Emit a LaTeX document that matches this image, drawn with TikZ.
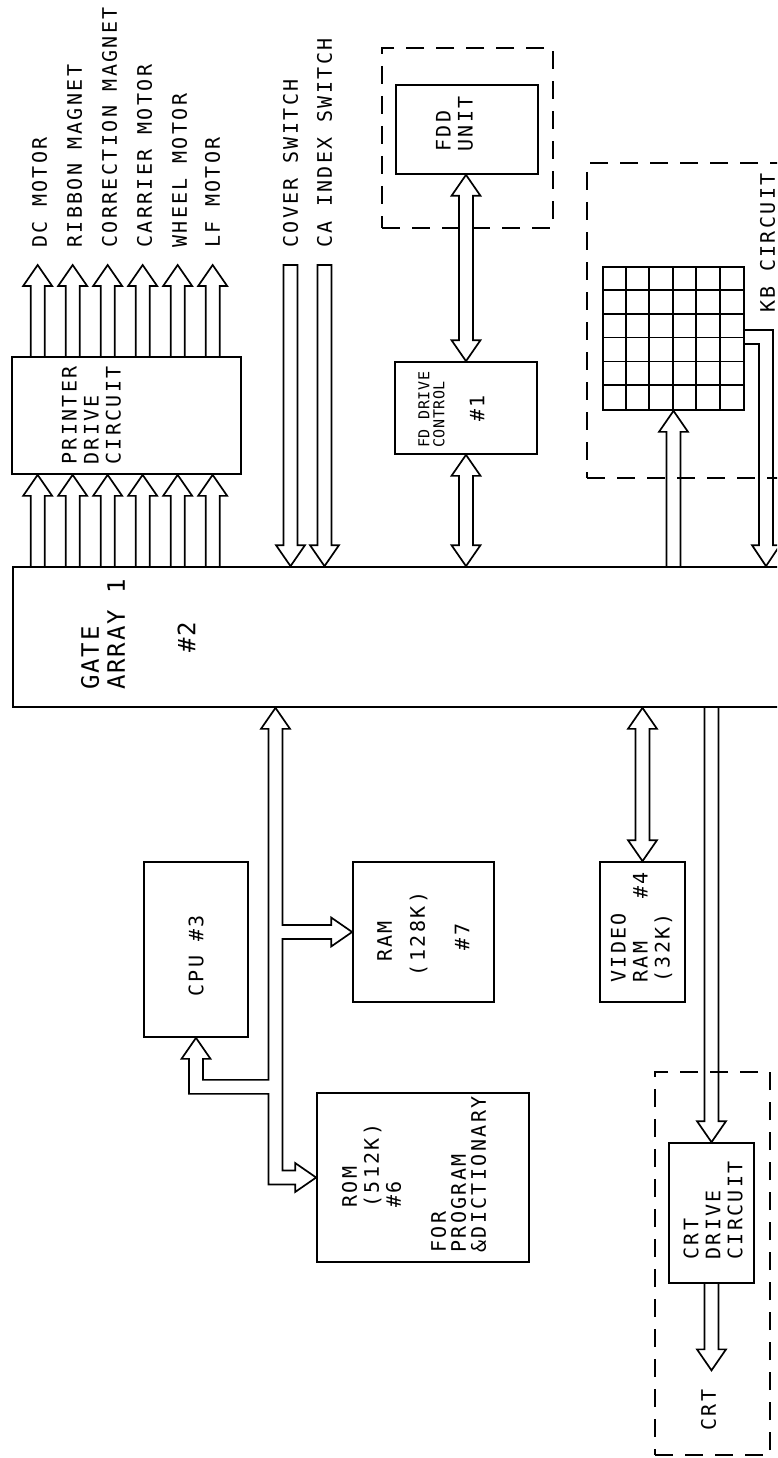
\documentclass[tikz,border=0pt]{standalone}
\usepackage{fontspec}
\usetikzlibrary{calc}
\newfontfamily\plotM{DejaVu Sans Mono}[LetterSpace=12]
\newfontfamily\plotG{DejaVu Sans Mono}[LetterSpace=8]
\newfontfamily\plotS{DejaVu Sans Mono}[LetterSpace=4]
\newcommand\lblM{\plotM\fontsize{20}{22}\selectfont}
\newcommand\lblR{\plotM\fontsize{20}{20}\selectfont}
\newcommand\lblG{\plotG\fontsize{24}{26}\selectfont}
\newcommand\lblS{\plotS\fontsize{15}{15}\selectfont}
\newcommand\arrS{7pt}
\newcommand\arrH{14.5pt}
\newcommand\arrL{21pt}
% #1 x reference, #2 tail, #3 tip, #4 sign (+ : tip below tail), #5 path end
\newcommand\blockarr[5]{%
  \draw[barrow] let \p3=(#1), \p1=(#2), \p2=(#3) in
  (\x3-\arrS,\y1) -- (\x3-\arrS,\y2#4\arrL) -- (\x3-\arrH,\y2#4\arrL) -- (\x3,\y2)
  -- (\x3+\arrH,\y2#4\arrL) -- (\x3+\arrS,\y2#4\arrL) -- (\x3+\arrS,\y1) #5;}
\newcommand\arrDown[3]{\blockarr{#1}{#2}{#3}{+}{}}
\newcommand\arrUp[3]{\blockarr{#1}{#2}{#3}{-}{}}
\newcommand\arrDownC[3]{\blockarr{#1}{#2}{#3}{+}{-- cycle}}
% double headed: #1 x reference, #2 upper end, #3 lower end
\newcommand\arrBoth[3]{%
  \draw[barrow] let \p3=(#1), \p1=(#2), \p2=(#3) in
  (\x3-\arrS,\y1-\arrL) -- (\x3-\arrH,\y1-\arrL) -- (\x3,\y1) -- (\x3+\arrH,\y1-\arrL)
  -- (\x3+\arrS,\y1-\arrL) -- (\x3+\arrS,\y2+\arrL) -- (\x3+\arrH,\y2+\arrL) -- (\x3,\y2)
  -- (\x3-\arrH,\y2+\arrL) -- (\x3-\arrS,\y2+\arrL) -- cycle;}
\tikzset{
  box/.style={draw, line width=1.7pt, inner sep=0pt},
  dbox/.style={draw, line width=1.7pt, dash pattern=on 18pt off 12pt, inner sep=0pt},
  barrow/.style={draw, line width=1.7pt, line join=miter, miter limit=8},
  lbl/.style={rotate=90, inner sep=0pt, align=left, font=\lblM},
  gridl/.style={line width=1.7pt},
}
\begin{document}
\begin{tikzpicture}[x=1pt, y=-1pt]
\useasboundingbox (0,0) rectangle (777,1458);
\clip (0,0) rectangle (777,1458);

% ---------- boxes ----------
\node[box, minimum width=887pt, minimum height=140pt] (gate) at (456.5,637) {};
\node[box, minimum width=229pt, minimum height=117pt] (pdc) at (126.5,415.5) {};
\node[box, minimum width=142pt, minimum height=92pt] (fdc) at (466,408) {};
\node[box, minimum width=142pt, minimum height=89pt] (fdd) at (467,129.5) {};
\node[box, minimum width=141pt, minimum height=143pt] (kb) at (673.5,338.5) {};
\node[box, minimum width=104pt, minimum height=175pt] (cpu) at (196,949.5) {};
\node[box, minimum width=141pt, minimum height=140pt] (ram) at (423.5,932) {};
\node[box, minimum width=85pt, minimum height=140pt] (vram) at (642.5,932) {};
\node[box, minimum width=212pt, minimum height=169pt] (rom) at (423,1177.5) {};
\node[box, minimum width=85pt, minimum height=140pt] (crt) at (711.5,1213) {};

% dashed enclosures
\node[dbox, minimum width=171pt, minimum height=180pt] (fddbox) at (467.5,138) {};
\node[dbox, minimum width=213pt, minimum height=315pt] (kbbox) at (693.5,320.5) {};
\node[dbox, minimum width=115pt, minimum height=383pt] (crtbox) at (712.5,1263.5) {};

% keyboard grid
\foreach \k in {1,...,5} {
  \draw[gridl] ([xshift=\k*23.5pt]kb.north west) -- ([xshift=\k*23.5pt]kb.south west);
  \draw[gridl] ([yshift=-\k*23.83pt]kb.north west) -- ([yshift=-\k*23.83pt]kb.north east);
}

% ---------- texts ----------
\foreach \i/\t/\x in {1/DC MOTOR/39.5, 2/RIBBON MAGNET/74.5, 3/CORRECTION MAGNET/109.5,
                      4/CARRIER MOTOR/144.5, 5/WHEEL MOTOR/179.5, 6/LF MOTOR/212.5}
  \node[lbl, anchor=west] (l\i) at (\x,248) {\t};
\node[lbl, anchor=west] (cov) at (290.5,248) {COVER SWITCH};
\node[lbl, anchor=west] (cai) at (324.5,248) {CA INDEX SWITCH};

\node[lbl, anchor=west] (ptxt) at (91.5,465) {PRINTER\\DRIVE\\CIRCUIT};
\node[lbl, font=\lblG, anchor=west] (gtxt) at (103,690) {GATE\\ARRAY 1};
\node[lbl, font=\lblG] (g2) at (186.5,637.5) {\#2};
\node[lbl, font=\lblS, anchor=west] (fdtxt) at (431.5,448) {FD DRIVE\\CONTROL};
\node[lbl] (fd1) at (477,408.5) {\#1};
\node[lbl, anchor=west] (fddtxt) at (454.5,152) {FDD\\UNIT};
\node[lbl, anchor=west] (kbtxt) at (767.5,313) {KB CIRCUIT};
\node[lbl, anchor=west] (cputxt) at (196,997) {CPU \#3};
\node[lbl] (ram1) at (384.5,941.5) {RAM};
\node[lbl] (ram2) at (418.5,934) {(128K)};
\node[lbl] (ram3) at (462,937) {\#7};
\node[lbl, anchor=west] (vtxt) at (641.5,983) {VIDEO\\RAM~~~\#4\\(32K)};
\node[lbl, anchor=west] (rom1) at (371.5,1208) {ROM\\(512K)\\\#6};
\node[lbl, font=\lblR, anchor=west] (rom2) at (458.5,1253) {FOR\\PROGRAM\\\&DICTIONARY};
\node[lbl, anchor=west] (crttxt) at (713,1260) {CRT\\DRIVE\\CIRCUIT};
\node[lbl] (crtl) at (708.5,1410) {CRT};

% ---------- connectors ----------
\foreach \i in {1,...,6} {
  \coordinate (pa\i) at ([xshift=-8.5pt+35pt*\i]pdc.south west);
  \arrUp{pa\i}{gate.north}{pdc.south}
  \arrUp{pa\i}{pdc.north}{[yshift=-17pt]l\i.west}
}
\arrDownC{[yshift=-17pt]cov.west}{[yshift=-17pt]cov.west}{gate.north}
\arrDownC{[yshift=-17pt]cai.west}{[yshift=-17pt]cai.west}{gate.north}

\arrBoth{fdc.north}{fdd.south}{fdc.north}
\arrBoth{fdc.south}{fdc.south}{gate.north}

\arrUp{kb.south}{gate.north}{kb.south}
\draw[barrow] let \p1=(kb.east), \p2=(gate.north) in
  (\x1,\y1+8.5pt) -- (773pt,\y1+8.5pt) -- (773pt,\y2+\arrL) -- (780pt,\y2+\arrL)
  -- (766pt,\y2) -- (752pt,\y2+\arrL) -- (759pt,\y2+\arrL) -- (759pt,\y1-5.5pt) -- (\x1,\y1-5.5pt);

\arrBoth{vram.north}{gate.south}{vram.north}
\arrDown{crt.north}{gate.south}{crt.north}
\arrDown{crt.south}{crt.south}{[yshift=19pt]crtl.east}

% main bus: gate -> RAM, ROM, CPU
\coordinate (busx) at (275.5,0);
\draw[barrow] let \p1=(busx |- gate.south), \p2=(ram.west), \p3=(rom.west), \p4=(cpu.south) in
  (\x1-\arrS,\y1-\arrL) -- (\x1-\arrH,\y1-\arrL) -- (\x1,\y1) -- (\x1+\arrH,\y1-\arrL) -- (\x1+\arrS,\y1-\arrL)
  -- (\x1+\arrS,\y2+\arrS) -- (\x2-\arrL,\y2+\arrS) -- (\x2-\arrL,\y2+\arrH) -- (\x2,\y2)
  -- (\x2-\arrL,\y2-\arrH) -- (\x2-\arrL,\y2-\arrS) -- (\x1+\arrS,\y2-\arrS)
  -- (\x1+\arrS,\y3+\arrS) -- (\x3-\arrL,\y3+\arrS) -- (\x3-\arrL,\y3+\arrH) -- (\x3,\y3)
  -- (\x3-\arrL,\y3-\arrH) -- (\x3-\arrL,\y3-\arrS) -- (\x1-\arrS,\y3-\arrS)
  -- (\x1-\arrS,\y4-56pt) -- (\x4-\arrS,\y4-56pt) -- (\x4-\arrS,\y4-\arrL) -- (\x4-\arrH,\y4-\arrL)
  -- (\x4,\y4) -- (\x4+\arrH,\y4-\arrL) -- (\x4+\arrS,\y4-\arrL) -- (\x4+\arrS,\y4-42pt)
  -- (\x1-\arrS,\y4-42pt) -- cycle;
\end{tikzpicture}
\end{document}
